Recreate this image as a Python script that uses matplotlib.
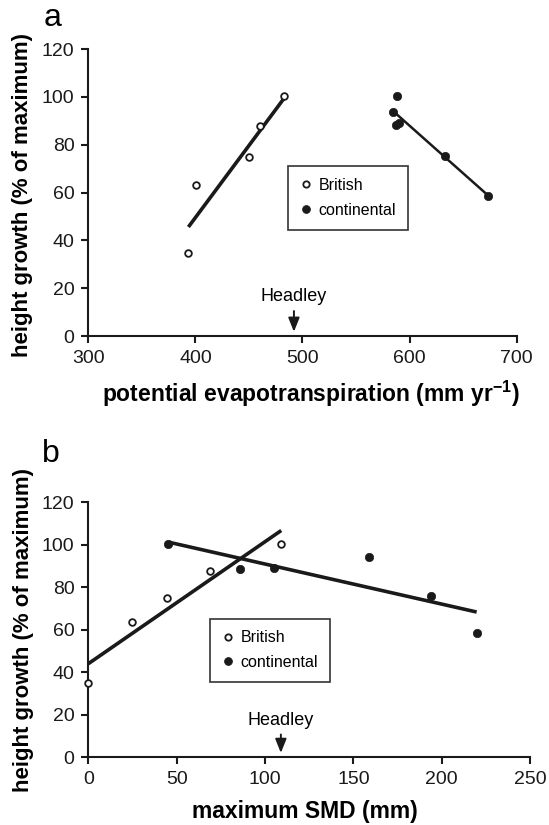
import numpy as np
import matplotlib
matplotlib.use("Agg")
import matplotlib.pyplot as plt

plt.rcParams['font.family'] = ['Liberation Sans', 'DejaVu Sans']
plt.rcParams['mathtext.default'] = 'regular'

# panel a: potential evapotranspiration (mm/yr) vs height growth (% of max)
pet_british = [393.5, 400.5, 450.5, 460.5, 483]
hg_pet_british = [34.6, 63.2, 75, 87.7, 100.3]
pet_cont = [584.5, 587.5, 590.5, 588, 633, 673.5]
hg_pet_cont = [93.7, 88.1, 88.9, 100.4, 75.2, 58.5]
pet_headley = 492

# panel b: maximum soil moisture deficit (mm) vs height growth
smd_british = [0, 24.6, 44.7, 68.9, 109.2]
hg_smd_british = [34.7, 63.7, 75, 87.7, 100.4]
smd_cont = [45.3, 85.9, 105.1, 158.7, 193.9, 219.8]
hg_smd_cont = [100.4, 88.3, 88.8, 94.1, 75.8, 58.2]
smd_headley = 109

yticks = [0, 20, 40, 60, 80, 100, 120]


def fit_line(ax, x, y, lw):
    k, b = np.polyfit(x, y, 1)
    xs = np.array([min(x), max(x)])
    ax.plot(xs, k * xs + b, color='#1a1a1a', lw=lw, solid_capstyle='butt', zorder=2)


def style_axes(ax):
    for s in ['top', 'right']:
        ax.spines[s].set_visible(False)
    for s in ['left', 'bottom']:
        ax.spines[s].set_linewidth(1.5)
        ax.spines[s].set_color('#1a1a1a')
    ax.tick_params(direction='out', length=5, width=1.5, labelsize=14, pad=5, colors='#1a1a1a')
    ax.set_ylim(0, 120)
    ax.set_yticks(yticks)


def draw_panel(ax, xb, yb, xc, yc, lw_b, lw_c):
    fit_line(ax, xb, yb, lw_b)
    fit_line(ax, xc, yc, lw_c)
    ax.plot(xb, yb, 'o', ms=4.8, mfc='white', mec='#1a1a1a', mew=1.3,
            ls='none', label='British', clip_on=False, zorder=3)
    ax.plot(xc, yc, 'o', ms=6.0, mfc='#1a1a1a', mec='#1a1a1a', mew=0.5,
            ls='none', label='continental', clip_on=False, zorder=3)


def headley(ax, x, y_text, y_top):
    ax.annotate('', xy=(x, 0.6), xytext=(x, y_top),
                arrowprops=dict(arrowstyle='-|>,head_length=0.7,head_width=0.28',
                                lw=1.4, color='#1a1a1a', mutation_scale=12))
    ax.text(x, y_text, 'Headley', ha='center', va='baseline', fontsize=13)


def legend(ax, x0, y1):
    leg = ax.legend(loc='upper left', bbox_to_anchor=(x0, y1), borderaxespad=0,
                    fancybox=False, framealpha=1, edgecolor='#333333',
                    fontsize=11.5, handlelength=0.8, handletextpad=0.35,
                    borderpad=0.75, labelspacing=0.6, markerscale=0.95)
    leg.get_frame().set_linewidth(1.2)


fig = plt.figure(figsize=(5.49, 8.25), dpi=100)

ax1 = fig.add_axes([0.1608, 0.5927, 0.7804, 0.3479])
style_axes(ax1)
ax1.set_xlim(300, 700)
ax1.set_xticks([300, 400, 500, 600, 700])
draw_panel(ax1, pet_british, hg_pet_british, pet_cont, hg_pet_cont, 2.6, 1.8)
headley(ax1, pet_headley, 14.6, 11.6)
legend(ax1, (288 - 88.3) / 428.4, (336 - 166) / 287)
ax1.set_xlabel('potential evapotranspiration (mm yr$^{-1}$)', fontsize=16.5, fontweight='bold')
ax1.set_ylabel('height growth (% of maximum)', fontsize=16, fontweight='bold')
ax1.xaxis.set_label_coords(0.52, -0.15)
ax1.yaxis.set_label_coords(-0.128, 0.49)

ax2 = fig.add_axes([0.1608, 0.0824, 0.8046, 0.3091])
style_axes(ax2)
ax2.set_xlim(0, 250)
ax2.set_xticks([0, 50, 100, 150, 200, 250])
draw_panel(ax2, smd_british, hg_smd_british, smd_cont, hg_smd_cont, 2.6, 2.6)
headley(ax2, smd_headley, 15, 11.9)
legend(ax2, (210 - 88.3) / 441.7, (757 - 618.5) / 255)
ax2.set_xlabel('maximum SMD (mm)', fontsize=16.5, fontweight='bold')
ax2.set_ylabel('height growth (% of maximum)', fontsize=16, fontweight='bold')
ax2.xaxis.set_label_coords(0.49, -0.17)
ax2.yaxis.set_label_coords(-0.124, 0.5)

fig.text(44 / 549, 1 - 26 / 825, 'a', fontsize=23, va='baseline')
fig.text(42 / 549, 1 - 462 / 825, 'b', fontsize=23, va='baseline')

fig.savefig('out.png', dpi=100)
